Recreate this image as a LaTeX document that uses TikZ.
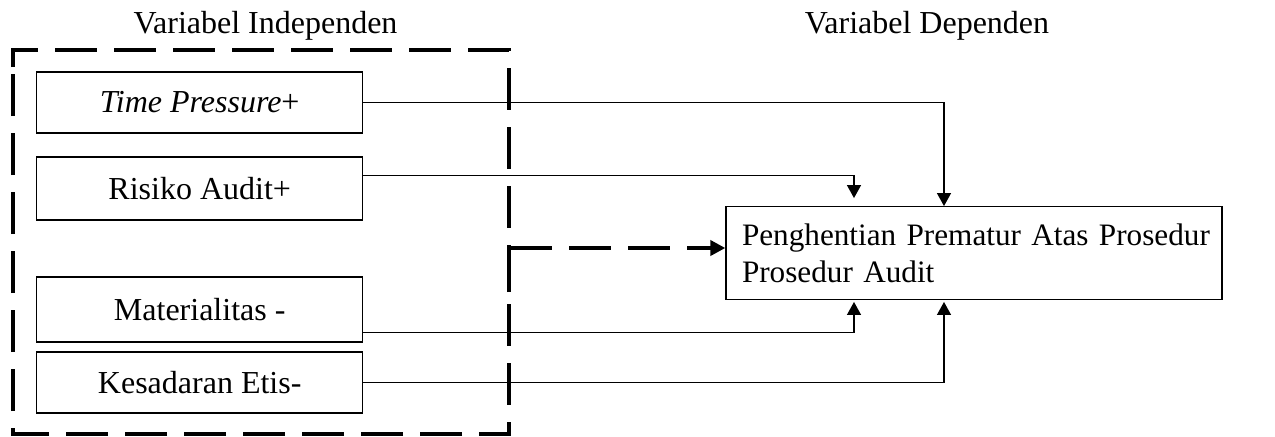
\documentclass[tikz,border=0pt]{standalone}
\usepackage{fontspec}
\setmainfont{Liberation Serif}
\usetikzlibrary{arrows.meta}
\begin{document}
\begin{tikzpicture}[x=0.5pt,y=-0.5pt,
  font=\fontsize{16pt}{18.35pt}\selectfont,
  varbox/.style={draw,line width=0.65pt,minimum width=163pt,inner sep=0pt},
  link/.style={line width=0.65pt,-{Triangle[length=6.5pt,width=7pt]}},
  groupline/.style={line width=2.1pt,dash pattern=on 21pt off 8.5pt},
  heading/.style={anchor=base,inner sep=0pt}]
  \useasboundingbox (0,0) rectangle (1275,436);

  % headings
  \node[heading] (hind) at (265.5,33) {Variabel Independen};
  \node[heading] (hdep) at (927,33) {Variabel Dependen};

  % independent variables
  \node[varbox,minimum height=30.5pt] (tp) at (199.7,102.5) {\textit{Time Pressure}+};
  \node[varbox,minimum height=31.5pt] (ra) at (199.7,188.5) {Risiko Audit+};
  \node[varbox,minimum height=32.5pt] (mt) at (199.7,309.5) {Materialitas -};
  \node[varbox,minimum height=30.5pt] (ke) at (199.7,382.5) {Kesadaran Etis-};

  % dashed frame around the independent variables
  \draw[groupline,line join=miter] (13,67) -- (13,50) -- (509,50) -- (509,434) -- (13,434) -- cycle;

  % dependent variable
  \node[draw,line width=0.65pt,minimum height=46.3pt,
        font=\fontsize{15.6pt}{18.35pt}\selectfont,
        text width=232pt,inner xsep=8pt,inner ysep=0pt,align=left] (tgt) at (974,253)
        {\mbox{Penghentian Prematur Atas Prosedur}\\Prosedur Audit};

  % column positions of the vertical arrow legs
  \coordinate (colA) at (854,0);
  \coordinate (colB) at (944,0);

  % connectors
  \draw[link] (tp.east) -| (colB |- tgt.north);
  \draw[link,shorten >=4pt] ([yshift=6.4pt]ra.east) -| (colA |- tgt.north);
  \draw[link,shorten >=1pt] ([yshift=-11.4pt]mt.east) -| (colA |- tgt.south);
  \draw[link,shorten >=1pt] (ke.east) -| (colB |- tgt.south);

  % moderating link from the frame
  \coordinate (frameout) at (509,292);
  \draw[line width=2.1pt,line join=miter,
        dash pattern=on 43.5pt off 8.5pt on 21pt off 8.5pt on 21pt off 8.5pt on 21pt off 8.5pt on 40pt off 8.5pt,
        -{Triangle[length=7.5pt,width=7.5pt]}]
        (frameout) |- ([yshift=2.5pt]tgt.west);
\end{tikzpicture}
\end{document}
